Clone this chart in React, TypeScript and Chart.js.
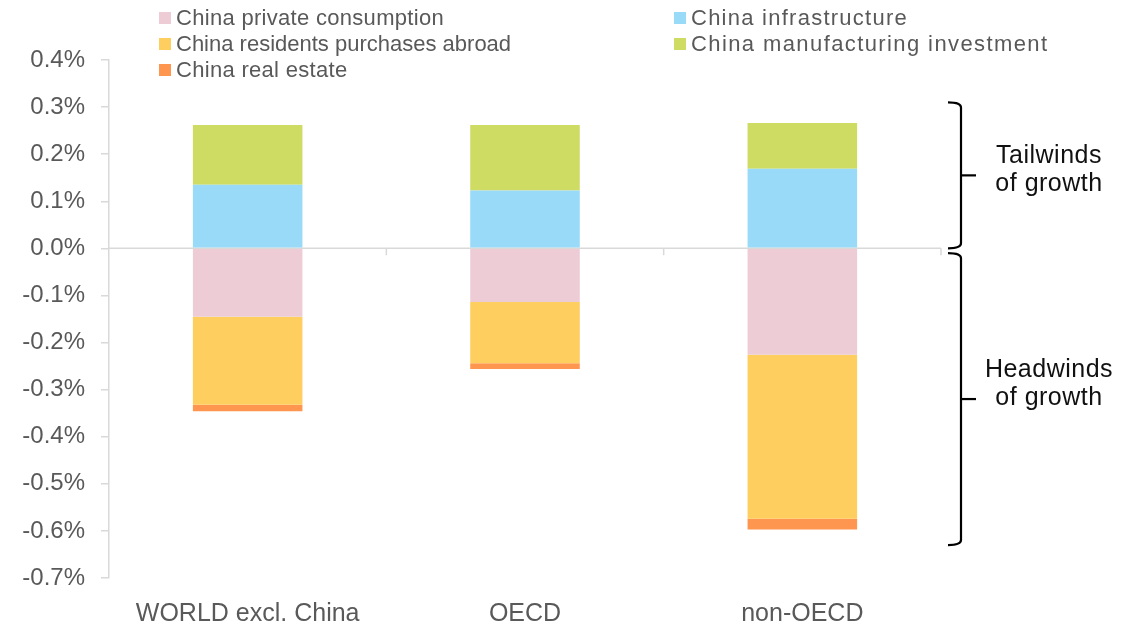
import React, { useEffect, useRef } from "react";
import { Chart, registerables } from "chart.js";

Chart.register(...registerables);

const categories = ["WORLD excl. China", "OECD", "non-OECD"];
const privateConsumption = [-0.145, -0.114, -0.226];
const residentsAbroad = [-0.187, -0.13, -0.348];
const realEstate = [-0.014, -0.012, -0.023];
const infrastructure = [0.135, 0.123, 0.169];
const manufacturing = [0.127, 0.139, 0.097];

const yTicksMin = -0.7;
const yTicksMax = 0.4;

const seriesLabels = [
  "China private consumption",
  "China residents purchases abroad",
  "China real estate",
  "China infrastructure",
  "China manufacturing investment",
];
const seriesColors = ["#EDCCD6", "#FECE5F", "#FF9650", "#99DAF8", "#CEDC64"];

const tailwindsRange = [0.31, 0.0];
const headwindsRange = [-0.01, -0.63];

const FONT = "'Liberation Sans', Arial, sans-serif";
const GREY = "#595959";
const AXIS = "#d9d9d9";

const overlayPlugin = {
  id: "overlay",
  beforeDatasetsDraw(chart: any) {
    const { ctx, chartArea, scales } = chart;
    const y0 = scales.y.getPixelForValue(0);
    const xs = scales.x;
    ctx.save();
    ctx.strokeStyle = AXIS;
    ctx.lineWidth = 1.5;
    ctx.beginPath();
    ctx.moveTo(chartArea.left, y0);
    ctx.lineTo(chartArea.right, y0);
    const n = categories.length;
    for (let i = 0; i < n; i++) {
      const xr = i < n - 1
        ? (xs.getPixelForValue(i) + xs.getPixelForValue(i + 1)) / 2
        : chartArea.right;
      ctx.moveTo(xr, y0);
      ctx.lineTo(xr, y0 + 7);
    }
    ctx.stroke();
    ctx.restore();
  },
  afterDraw(chart: any) {
    const { ctx, scales } = chart;
    const ys = scales.y;
    ctx.save();
    // Legend
    ctx.font = `22px ${FONT}`;
    ctx.textBaseline = "middle";
    ctx.fillStyle = GREY;
    const legendOrder = [
      { idx: 0, x: 159, y: 18, ls: 0.3 },
      { idx: 1, x: 159, y: 44, ls: 0 },
      { idx: 2, x: 159, y: 70, ls: 0.3 },
      { idx: 3, x: 674, y: 18, ls: 1.25 },
      { idx: 4, x: 674, y: 44, ls: 1.4 },
    ];
    legendOrder.forEach((l) => {
      ctx.fillStyle = seriesColors[l.idx];
      ctx.fillRect(l.x, l.y - 6, 12, 12);
      ctx.fillStyle = GREY;
      ctx.textAlign = "left";
      (ctx as any).letterSpacing = `${l.ls}px`;
      ctx.fillText(seriesLabels[l.idx], l.x + 17, l.y + 1);
    });
    (ctx as any).letterSpacing = "0px";

    // Brackets
    const bx = 961;
    const drawBracket = (v1: number, v2: number) => {
      const t = ys.getPixelForValue(v1);
      const b = ys.getPixelForValue(v2);
      const m = (t + b) / 2;
      ctx.strokeStyle = "#000";
      ctx.lineWidth = 2.2;
      ctx.beginPath();
      ctx.moveTo(948, t);
      ctx.quadraticCurveTo(bx, t, bx, t + 5);
      ctx.lineTo(bx, b - 5);
      ctx.quadraticCurveTo(bx, b, 948, b);
      ctx.stroke();
      ctx.beginPath();
      ctx.moveTo(bx, m);
      ctx.lineTo(976, m);
      ctx.stroke();
      return m;
    };
    drawBracket(tailwindsRange[0], tailwindsRange[1]);
    drawBracket(headwindsRange[0], headwindsRange[1]);

    ctx.fillStyle = "#111";
    ctx.font = `25px ${FONT}`;
    ctx.textAlign = "center";
    ctx.textBaseline = "middle";
    (ctx as any).letterSpacing = "0.5px";
    ctx.fillText("Tailwinds", 1049, 156);
    ctx.fillText("of growth", 1049, 184);
    ctx.fillText("Headwinds", 1049, 370);
    ctx.fillText("of growth", 1049, 398);
    (ctx as any).letterSpacing = "0px";
    ctx.restore();
  },
};

export default function App() {
  const canvasRef = useRef<HTMLCanvasElement | null>(null);

  useEffect(() => {
    const canvas = canvasRef.current;
    if (!canvas) return;
    const data = [privateConsumption, residentsAbroad, realEstate, infrastructure, manufacturing];
    const chart = new Chart(canvas, {
      type: "bar",
      data: {
        labels: categories,
        datasets: data.map((d, i) => ({
          label: seriesLabels[i],
          data: d,
          backgroundColor: seriesColors[i],
          borderWidth: 0,
          categoryPercentage: 1,
          barPercentage: 0.395,
        })),
      },
      options: {
        animation: false,
        responsive: false,
        maintainAspectRatio: false,
        layout: { padding: { top: 60, right: 202, bottom: 0, left: 0 } },
        plugins: {
          legend: { display: false },
          tooltip: { enabled: false },
        },
        scales: {
          x: {
            stacked: true,
            grid: { display: false },
            border: { display: false },
            ticks: {
              color: GREY,
              font: { family: FONT, size: 25 },
              padding: 13,
              maxRotation: 0,
            },
            afterFit: (s: any) => {
              s.height = 45;
            },
          },
          y: {
            stacked: true,
            min: yTicksMin,
            max: yTicksMax,
            grid: {
              drawOnChartArea: false,
              color: AXIS,
              tickLength: 8,
              lineWidth: 1.5,
            },
            border: { display: true, color: AXIS, width: 1.5 },
            ticks: {
              stepSize: 0.1,
              color: GREY,
              font: { family: FONT, size: 24 },
              padding: 16,
              callback: (v: any) => {
                const n = Math.round(Number(v) * 10) / 10;
                return (Object.is(n, -0) ? 0 : n).toFixed(1) + "%";
              },
            },
            afterFit: (s: any) => {
              s.width = 109;
            },
          },
        },
      },
      plugins: [overlayPlugin],
    });
    return () => chart.destroy();
  }, []);

  return (
    <div style={{ position: "fixed", left: 0, top: 0, width: 1143, height: 623, background: "#fff" }}>
      <canvas ref={canvasRef} width={1143} height={623} style={{ width: 1143, height: 623 }} />
    </div>
  );
}
